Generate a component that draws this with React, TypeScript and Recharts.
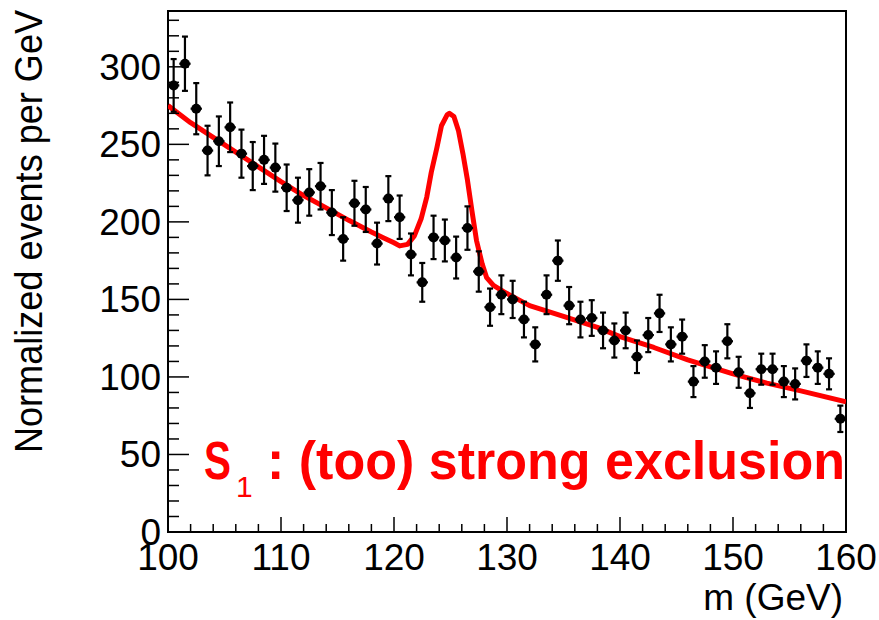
import React from "react";
import {
  ComposedChart,
  Line,
  Scatter,
  XAxis,
  YAxis,
  ErrorBar,
  ReferenceArea,
} from "recharts";

// bin centres (1 GeV bins)
const massBins = [
  100.5, 101.5, 102.5, 103.5, 104.5, 105.5, 106.5, 107.5, 108.5, 109.5,
  110.5, 111.5, 112.5, 113.5, 114.5, 115.5, 116.5, 117.5, 118.5, 119.5,
  120.5, 121.5, 122.5, 123.5, 124.5, 125.5, 126.5, 127.5, 128.5, 129.5,
  130.5, 131.5, 132.5, 133.5, 134.5, 135.5, 136.5, 137.5, 138.5, 139.5,
  140.5, 141.5, 142.5, 143.5, 144.5, 145.5, 146.5, 147.5, 148.5, 149.5,
  150.5, 151.5, 152.5, 153.5, 154.5, 155.5, 156.5, 157.5, 158.5, 159.5,
];

const events = [
  288, 302, 273, 246, 252, 261, 244, 236, 240, 235,
  222, 214, 219, 223, 206, 189, 212, 208, 186, 215,
  203, 179, 161, 190, 188, 177, 196, 168, 145, 153,
  150, 137, 121, 153, 175, 146, 137, 138, 130, 123.5,
  130, 113, 127, 141, 121, 126, 97, 110, 106, 123,
  103, 89.5, 105, 105, 97, 95.5, 110.5, 106, 102, 73,
];

const eventErrors = [
  17, 17.5, 16.5, 16, 16, 16, 15.5, 15.5, 15.5, 15.5,
  15, 14.5, 15, 15, 14.5, 14, 14.5, 14.5, 13.5, 14.5,
  14, 13.5, 12.5, 14, 13.5, 13.5, 14, 13, 12, 12.5,
  12, 11.5, 11, 12.5, 13, 12, 11.5, 11.5, 11.5, 11,
  11.5, 10.5, 11, 12, 11, 11, 10, 10.5, 10.5, 11,
  10, 9.5, 10, 10, 10, 10, 10.5, 10.5, 10, 8.5,
];

const binHalfWidth = 0.5;

// fitted model curve
const curveMass = [
  100, 102, 104, 106, 108, 110, 112, 114, 116, 118, 119, 120, 120.5,
  121.2, 121.8, 122.4, 122.9, 123.3, 123.8, 124.2, 124.7, 124.9, 125.3,
  125.7, 126.1, 126.5, 126.9, 127.3, 127.8, 128.2, 128.8, 129.7, 130.6,
  132, 135, 138, 140, 143, 146, 150, 153, 156, 160,
];
const curveValue = [
  275, 264, 254.5, 245, 235.5, 226, 217, 209, 201, 193.5, 190, 186.5, 184.5,
  185.5, 191, 202, 216, 232, 248, 262, 269, 270, 268,
  259, 244, 227, 207, 188, 173, 164, 159, 155, 151.5,
  146, 139, 132, 126, 119, 111, 102, 96, 91, 84,
];

const xTicks = [
  100, 102, 104, 106, 108, 110, 112, 114, 116, 118, 120, 122, 124, 126, 128,
  130, 132, 134, 136, 138, 140, 142, 144, 146, 148, 150, 152, 154, 156, 158, 160,
];
const yTicks = [
  0, 10, 20, 30, 40, 50, 60, 70, 80, 90, 100, 110, 120, 130, 140, 150, 160,
  170, 180, 190, 200, 210, 220, 230, 240, 250, 260, 270, 280, 290, 300, 310,
  320, 330,
];

const points = massBins.map((m, i) => ({
  x: m,
  y: events[i],
  err: eventErrors[i],
  xerr: binHalfWidth,
}));
const curve = curveMass.map((m, i) => ({ x: m, y: curveValue[i] }));

const FONT = "'Liberation Sans', Arial, Helvetica, sans-serif";

const XTick = (props: any) => {
  const { x, y, payload } = props;
  const major = payload.value % 10 === 0;
  return (
    <g>
      <line x1={x} y1={y} x2={x} y2={y - (major ? 15 : 8)} stroke="#000" strokeWidth={1.5} />
      {major && (
        <text x={x} y={y + 38} textAnchor="middle" fontSize={37} fontFamily={FONT} fill="#000">
          {payload.value}
        </text>
      )}
    </g>
  );
};

const YTick = (props: any) => {
  const { x, y, payload } = props;
  const major = payload.value % 50 === 0;
  return (
    <g>
      <line x1={x} y1={y} x2={x + (major ? 21 : 11)} y2={y} stroke="#000" strokeWidth={1.5} />
      {major && (
        <text x={x - 7} y={y + 13} textAnchor="end" fontSize={37} fontFamily={FONT} fill="#000">
          {payload.value}
        </text>
      )}
    </g>
  );
};

const Marker = (props: any) => {
  const { cx, cy } = props;
  if (cx == null || cy == null) return null;
  return <circle cx={cx} cy={cy} r={5} fill="#000" />;
};

export default function App() {
  return (
    <div style={{ position: "absolute", left: 0, top: 0, width: 879, height: 620, background: "#fff" }}>
      <ComposedChart
        width={879}
        height={620}
        margin={{ top: 11, right: 33, bottom: 0, left: 0 }}
      >
        <XAxis
          type="number"
          dataKey="x"
          domain={[100, 160]}
          ticks={xTicks}
          interval={0}
          allowDataOverflow
          height={88}
          tickSize={0}
          tickMargin={0}
          axisLine={false}
          tickLine={false}
          tick={<XTick />}
        />
        <YAxis
          type="number"
          dataKey="y"
          domain={[0, 336]}
          ticks={yTicks}
          interval={0}
          allowDataOverflow
          width={168}
          tickSize={0}
          tickMargin={0}
          axisLine={false}
          tickLine={false}
          tick={<YTick />}
        />
        <ReferenceArea
          x1={100}
          x2={160}
          y1={0}
          y2={336}
          fill="none"
          fillOpacity={0}
          stroke="#000"
          strokeWidth={2}
        />
        <Line
          data={curve}
          dataKey="y"
          type="linear"
          stroke="#ff0000"
          strokeWidth={5}
          strokeLinejoin="round"
          dot={false}
          activeDot={false}
          isAnimationActive={false}
        />
        <Scatter data={points} dataKey="y" shape={<Marker />} isAnimationActive={false}>
          <ErrorBar dataKey="err" direction="y" width={3} stroke="#000" strokeWidth={2.2} />
          <ErrorBar dataKey="xerr" direction="x" width={0} stroke="#000" strokeWidth={2.2} />
        </Scatter>
      </ComposedChart>
      <svg
        width={879}
        height={620}
        style={{ position: "absolute", left: 0, top: 0, pointerEvents: "none" }}
      >
        <text
          x={42}
          y={10}
          transform="rotate(-90 42 10)"
          textAnchor="end"
          fontSize={38}
          fontFamily={FONT}
          fill="#000"
          textLength={443}
          lengthAdjust="spacingAndGlyphs"
        >
          Normalized events per GeV
        </text>
        <text x={843} y={610} textAnchor="end" fontSize={37} fontFamily={FONT} fill="#000">
          m (GeV)
        </text>
        <text
          x={204}
          y={479}
          fontSize={53}
          fontWeight="bold"
          fontFamily={FONT}
          fill="#ff0000"
          textLength={27}
          lengthAdjust="spacingAndGlyphs"
        >
          S
        </text>
        <text x={236} y={497} fontSize={30} fontFamily={FONT} fill="#ff0000">
          1
        </text>
        <text
          x={267}
          y={479}
          fontSize={53}
          fontWeight="bold"
          fontFamily={FONT}
          fill="#ff0000"
          textLength={578}
          lengthAdjust="spacingAndGlyphs"
        >
          : (too) strong exclusion
        </text>
      </svg>
    </div>
  );
}
